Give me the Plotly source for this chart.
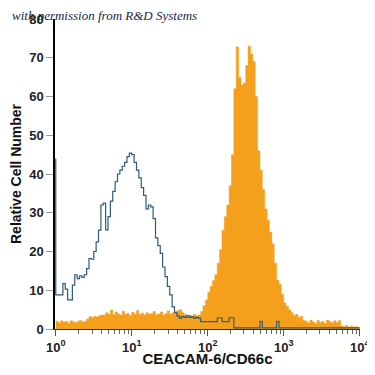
import plotly.graph_objects as go

# ---- data ----
bins_per_decade = 32
n_bins = 128
first_bin_count = 44  # isotype pile-up at the left edge

isotype_counts = [
    8.8, 8.8, 8.8, 11.7, 10.3, 7.5, 7.5, 11.3, 14, 13,
    13.7, 13.3, 14, 15.6, 18.2, 18, 20, 22.5, 25.5, 32,
    32.5, 25.6, 29, 33, 35.5, 38, 40, 41, 42, 43,
    44.5, 45.4, 45, 43, 41, 39, 36.5, 34.5, 31, 32,
    31.5, 28.5, 23.5, 21.5, 19.5, 16, 13.5, 11, 8.8, 5.7,
    4.2, 3.4, 2.8, 3.2, 3.0, 3.4, 3.0, 3.2, 2.8, 3.0,
    2.8, 1.9, 1.9, 1.9, 1.9, 1.9, 1.9, 1.9, 2.9, 2.9,
    1.9, 1.9, 1.9, 2.9, 2.9, 0.3, 0.3, 0.3, 0.3, 0.3,
    0.3, 0.3, 0.3, 0.3, 0.3, 0.3, 2.0, 0.3, 0.3, 0.3,
    0.3, 0.3, 0.3, 2.0, 0.3, 0.3, 0.3, 0.3, 0.3, 0.3,
    0.3, 0.3, 0.3, 0.3, 0.3, 0.3, 0.3, 0.3, 0.3, 0.3,
    0.3, 0.3, 0.3, 0.3, 0.3, 0.3, 0.3, 0.3, 0.3, 0.3,
    0.3, 0.3, 0.3, 0.3, 0.3, 0.3, 0.3, 0.3,
]

ceacam6_counts = [
    2.0, 1.6, 2.1, 1.8, 2.0, 1.5, 2.1, 1.9, 1.6, 2.0,
    2.2, 1.8, 2.0, 2.6, 3.2, 3.0, 3.3, 3.1, 3.4, 3.6,
    3.6, 4.2, 3.8, 4.9, 3.7, 4.4, 3.9, 3.6, 4.6, 3.8,
    4.0, 3.5, 4.3, 3.9, 4.8, 3.7, 4.1, 3.6, 4.2, 3.8,
    4.0, 4.5, 3.7, 3.9, 4.4, 3.6, 4.0, 4.7, 3.9, 4.2,
    4.5, 4.8, 5.0, 4.2, 3.8, 3.5, 3.6, 3.3, 3.8, 3.4,
    3.6, 4.5, 6.0, 7.5, 9.5, 11, 12.5, 14, 17, 20.5,
    25.5, 29, 32, 37, 45, 62, 72.8, 65, 63, 63.5,
    68, 73, 71, 69, 60, 46, 41, 36, 31, 28,
    25, 22, 17, 12.6, 11.5, 9, 6.7, 5.8, 5.0, 4.2,
    3.5, 3.8, 3.0, 3.3, 2.2, 2.0, 1.6, 2.3, 1.8, 1.5,
    2.2, 1.7, 2.0, 1.5, 2.3, 1.9, 1.6, 2.1, 1.7, 2.2,
    0.8, 0.6, 0.9, 0.5, 0.7, 0.5, 0.6, 0.4,
]

y_ticks = [0, 10, 20, 30, 40, 50, 60, 70, 80]
x_tick_values = [1, 10, 100, 1000, 10000]
x_tick_labels = ["10<sup>0</sup>", "10<sup>1</sup>", "10<sup>2</sup>",
                 "10<sup>3</sup>", "10<sup>4</sup>"]
x_title = "CEACAM-6/CD66c"
y_title = "Relative Cell Number"
credit = "with permission from R&D Systems"

# ---- build step outlines ----
edges = [10 ** (i / bins_per_decade) for i in range(n_bins + 1)]

orange_x = edges[:-1] + [edges[-1]]
orange_y = ceacam6_counts + [ceacam6_counts[-1]]

blue_x = [edges[0]] + edges[:-1] + [edges[-1]]
blue_y = [first_bin_count] + isotype_counts + [isotype_counts[-1]]

minor_vals = [k * 10 ** d for d in range(4) for k in range(2, 10)]

fig = go.Figure()
fig.add_trace(go.Scatter(
    x=orange_x, y=orange_y, mode="lines", line=dict(shape="hv", width=0.5, color="#F5A01C"),
    fill="tozeroy", fillcolor="#F5A01C", hoverinfo="skip", showlegend=False))
fig.add_trace(go.Scatter(
    x=blue_x, y=blue_y, mode="lines", line=dict(shape="hv", width=1.2, color="#2D5B7A"),
    hoverinfo="skip", showlegend=False))

fam = "Liberation Sans Narrow, Arial Narrow, Liberation Sans, Arial"
tick_font = dict(family=fam, size=13, color="#222222", weight="bold")
title_font = dict(family=fam, size=15, color="#111111", weight="bold")

# the page body has an 8px margin, so the figure is placed at (8, 8)
fig.update_layout(
    width=367, height=359,
    margin=dict(l=47, r=15, t=11, b=38),
    paper_bgcolor="white", plot_bgcolor="white",
    xaxis=dict(
        type="log", range=[-0.01, 4.004], automargin=False,
        showline=True, linecolor="#333333", linewidth=1.2,
        ticks="outside", ticklen=6, tickcolor="#555555", tickwidth=1,
        tickvals=x_tick_values, ticktext=x_tick_labels, ticklabeloverflow="allow",
        tickfont=tick_font, showgrid=False, zeroline=False,
        minor=dict(tickmode="array", tickvals=minor_vals, ticks="outside", ticklen=4,
                   tickcolor="#666666", tickwidth=1, showgrid=False),
        title=dict(text=x_title, font=title_font, standoff=7),
    ),
    yaxis=dict(
        range=[0, 80], tickvals=y_ticks, automargin=False,
        showline=True, linecolor="#000000", linewidth=1.5,
        ticks="outside", ticklen=7, tickcolor="#999999", tickwidth=1,
        tickfont=tick_font, showgrid=False, zeroline=False,
        title=dict(text=y_title, font=dict(title_font, size=14), standoff=8),
    ),
    annotations=[dict(
        text=credit, xref="paper", yref="paper", x=-0.148, y=1.01, xanchor="left", yanchor="middle",
        showarrow=False,
        font=dict(family="Liberation Serif, Times New Roman, serif", size=13, style="italic",
                  color="#1A1F3C"))],
)

fig.write_html("out.html")
